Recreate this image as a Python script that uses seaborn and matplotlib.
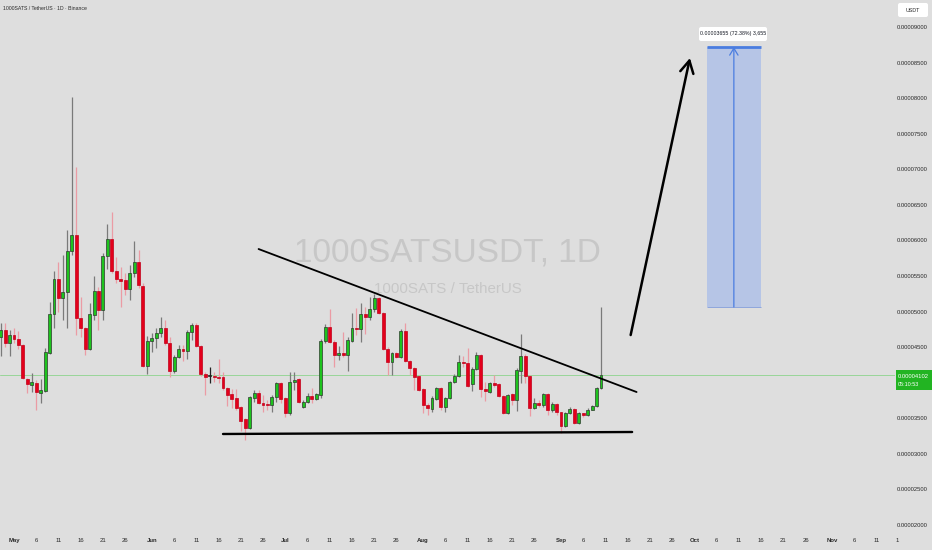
import numpy as np
import pandas as pd
import matplotlib
matplotlib.use("Agg")
import matplotlib.pyplot as plt
import matplotlib.dates as mdates
from matplotlib import font_manager as fm
from matplotlib.patches import Rectangle, FancyBboxPatch
from matplotlib.transforms import IdentityTransform
import seaborn as sns

# ---------------- data (prices in units of 1e-8 USDT) ----------------
start_date = "2024-04-28"
opens_e8 = [4642, 4741, 4558, 4671, 4614, 4530, 4052, 3967, 3996, 3855,
            3883, 4417, 4966, 5458, 5191, 5275, 5851, 6076, 4910, 4769,
            4474, 4952, 5289, 5022, 5781, 6020, 5570, 5458, 5444, 5317,
            5542, 5697, 5359, 4235, 4586, 4628, 4699, 4769, 4558, 4164,
            4361, 4474, 4446, 4713, 4811, 4516, 4122, 4090, 4094, 4080,
            4080, 3925, 3841, 3785, 3658, 3490, 3363, 3785, 3855, 3714,
            3700, 3690, 3799, 3996, 3785, 3574, 4010, 4052, 3658, 3728,
            3813, 3771, 3827, 4586, 4783, 4572, 4389, 4417, 4389, 4586,
            4769, 4755, 4966, 4924, 5036, 5191, 4980, 4474, 4291, 4417,
            4361, 4727, 4305, 4206, 4094, 3911, 3686, 3630, 3771, 3925,
            3658, 3785, 4010, 4094, 4291, 4277, 3981, 4192, 4389, 3911,
            3869, 3996, 3981, 3813, 3574, 3841, 3757, 4164, 4375, 4094,
            3644, 3714, 3686, 3841, 3616, 3700, 3588, 3391, 3574, 3630,
            3434, 3574, 3546, 3616, 3672, 3925]
highs_e8 = [4839, 4839, 4741, 4769, 4727, 4544, 4066, 4136, 4038, 4052,
            4488, 5134, 5570, 5697, 5795, 6147, 8016, 7032, 5205, 4783,
            5120, 5500, 5345, 5823, 6231, 6400, 5767, 5626, 5542, 5655,
            5992, 5865, 5402, 4656, 4699, 4769, 4924, 4881, 4642, 4389,
            4530, 4530, 4741, 4839, 4839, 4530, 4150, 4221, 4150, 4333,
            4150, 3939, 3911, 3911, 3672, 3504, 3813, 3897, 3897, 3827,
            3757, 3827, 4010, 4010, 3799, 4150, 4150, 4066, 3757, 3855,
            3925, 3855, 4614, 4825, 5036, 4600, 4516, 4713, 4642, 4980,
            5050, 5120, 5064, 5205, 5247, 5205, 4994, 4502, 4431, 4431,
            4755, 4839, 4319, 4221, 4108, 3925, 3714, 3813, 3939, 3939,
            3799, 4024, 4122, 4389, 4375, 4488, 4221, 4431, 4403, 4010,
            4010, 4108, 3996, 3827, 3841, 3855, 4206, 4685, 4403, 4108,
            3785, 3757, 3855, 3855, 3728, 3714, 3595, 3588, 3658, 3644,
            3588, 3580, 3644, 3686, 3939, 5064]
lows_e8 = [4375, 4502, 4375, 4558, 4474, 4052, 3855, 3869, 3616, 3714,
           3869, 4403, 4769, 4994, 4881, 4769, 5795, 4671, 4642, 4389,
           4460, 4881, 4741, 4881, 5598, 5542, 5402, 5064, 5233, 5163,
           5486, 5331, 4221, 4122, 4431, 4488, 4642, 4530, 4080, 4136,
           4347, 4305, 4333, 4600, 4502, 4094, 3827, 3996, 4010, 3996,
           3897, 3672, 3644, 3616, 3321, 3194, 3349, 3728, 3700, 3588,
           3616, 3588, 3728, 3714, 3518, 3546, 3897, 3714, 3644, 3714,
           3714, 3757, 3785, 4558, 4558, 4221, 4319, 4361, 4164, 4572,
           4671, 4572, 4685, 4881, 4994, 4966, 4460, 4108, 4108, 4347,
           4347, 4291, 4108, 3897, 3883, 3574, 3546, 3588, 3757, 3616,
           3588, 3771, 3996, 4080, 4221, 3939, 3883, 4178, 3799, 3742,
           3855, 3939, 3799, 3560, 3560, 3686, 3602, 3996, 3996, 3532,
           3630, 3658, 3658, 3546, 3588, 3546, 3293, 3377, 3560, 3419,
           3419, 3518, 3532, 3610, 3658, 3911]
closes_e8 = [4741, 4558, 4671, 4614, 4530, 4066, 3981, 4010, 3869, 3897,
             4431, 4966, 5458, 5191, 5275, 5851, 6076, 4910, 4769, 4474,
             4966, 5289, 5022, 5781, 6020, 5570, 5458, 5430, 5317, 5542,
             5697, 5373, 4235, 4586, 4628, 4699, 4769, 4558, 4164, 4361,
             4474, 4446, 4713, 4811, 4516, 4122, 4080, 4090, 4080, 4066,
             3925, 3827, 3771, 3644, 3462, 3363, 3799, 3855, 3714, 3686,
             3686, 3799, 3996, 3771, 3574, 4010, 4038, 3728, 3728, 3813,
             3771, 3841, 4586, 4783, 4572, 4389, 4417, 4389, 4600, 4769,
             4755, 4966, 4924, 5036, 5191, 4980, 4474, 4291, 4417, 4361,
             4727, 4305, 4206, 4080, 3897, 3686, 3644, 3785, 3925, 3658,
             3785, 4010, 4094, 4291, 4277, 3953, 4192, 4389, 3911, 3883,
             3996, 3967, 3813, 3574, 3827, 3757, 4178, 4375, 4094, 3644,
             3714, 3686, 3841, 3616, 3700, 3588, 3391, 3574, 3630, 3434,
             3574, 3546, 3616, 3672, 3925, 4102]

# drawing annotations (date, price e8)
resistance_dates = ["2024-06-25", "2024-09-18"]
resistance_e8 = [5879, 3869]
support_dates = ["2024-06-17", "2024-09-17"]
support_e8 = [3279, 3307]
arrow_dates = ["2024-09-16 16:00", "2024-09-30 00:00"]
arrow_e8 = [4670, 8564]
target_dates = ["2024-10-03 19:00", "2024-10-15 23:00"]
target_e8 = [5064, 8719]
target_text = "0.00003655 (72.38%) 3,655"
title_text = "1000SATS / TetherUS · 1D · Binance"
watermark_main = "1000SATSUSDT, 1D"
watermark_sub = "1000SATS / TetherUS"
countdown_text = "05:10:53"

# ---------------- style ----------------
sns.set_theme(style="white")
avail = {f.name for f in fm.fontManager.ttflist}
FONT = next((f for f in ["Liberation Sans Narrow", "Arial Narrow", "Liberation Sans"]
             if f in avail), "DejaVu Sans")
NARROW = FONT in ("Liberation Sans Narrow", "Arial Narrow")
plt.rcParams["font.family"] = [FONT, "DejaVu Sans"]
k = 1.2 if NARROW else 1.0   # size factor if a narrow face exists

BG = "#dedede"
GREEN = "#1ec31e"
RED = "#e3001b"
TXT = "#2a2a2a"

E8 = 1e-8
o = np.array(opens_e8) * E8
h = np.array(highs_e8) * E8
l = np.array(lows_e8) * E8
c = np.array(closes_e8) * E8
dates = pd.date_range(start_date, periods=len(o), freq="D")
x = mdates.date2num(dates)

W, H = 932, 550
fig = plt.figure(figsize=(W / 100, H / 100), dpi=100, facecolor=BG)
ax_top, ax_bot, ax_right = 0, 532, 895
ax = fig.add_axes([0, (H - ax_bot) / H, ax_right / W, (ax_bot - ax_top) / H])
ax.set_facecolor(BG)

# axis scaling (pixel layout of the reference)
px_per_day = 4.447
may1 = mdates.date2num(pd.Timestamp("2024-05-01"))
ax.set_xlim(may1 - 14 / px_per_day, may1 + (ax_right - 14) / px_per_day)
px_per_e8 = 35.57 / 500.0
ytop = (9000 + 27 / px_per_e8) * E8
ax.set_ylim(ytop - ax_bot / px_per_e8 * E8, ytop)

# watermark
ax.text(0.5, 1 - 253 / ax_bot, watermark_main, transform=ax.transAxes, ha="center",
        va="center", fontsize=24 * k, color="#c7c7c7", zorder=0)
ax.text(0.5, 1 - 289 / ax_bot, watermark_sub, transform=ax.transAxes, ha="center",
        va="center", fontsize=10.9 * k, color="#c7c7c7", zorder=0)

# current price line
ax.axhline(c[-1], color="#98d598", lw=0.7, zorder=1)

# candles
up = c > o
down = c < o
wick_col = np.where(up, "#7a7a7a", np.where(down, "#eb9ba4", "#222222"))
ax.vlines(x, l, h, colors=wick_col, lw=0.9, zorder=2)
face = np.where(up, GREEN, np.where(down, RED, "#222222"))
edge = np.where(up, "#2e3a2e", np.where(down, "#c0001a", "#222222"))
body_bottom = np.minimum(o, c)
body_h = np.maximum(np.abs(c - o), 12 * E8)
ax.bar(x, body_h, bottom=body_bottom, width=0.66, color=face, edgecolor=edge,
       linewidth=0.5, zorder=3)

# trend lines
rx = mdates.date2num(pd.to_datetime(resistance_dates))
sx = mdates.date2num(pd.to_datetime(support_dates))
sns.lineplot(x=rx, y=np.array(resistance_e8) * E8, color="black", lw=1.3, ax=ax,
             legend=False, zorder=4)
sns.lineplot(x=sx, y=np.array(support_e8) * E8, color="black", lw=1.7, ax=ax,
             legend=False, zorder=4)

# projection arrow
axx = mdates.date2num(pd.to_datetime(arrow_dates))
ax.annotate("", xy=(axx[1], arrow_e8[1] * E8), xytext=(axx[0], arrow_e8[0] * E8),
            arrowprops=dict(arrowstyle="->,head_length=0.55,head_width=0.3",
                            color="black", lw=1.8, mutation_scale=16,
                            shrinkA=0, shrinkB=0), zorder=5)

# target box
tx = mdates.date2num(pd.to_datetime(target_dates))
tb, tt = target_e8[0] * E8, target_e8[1] * E8
ax.add_patch(Rectangle((tx[0], tb), tx[1] - tx[0], tt - tb, facecolor="#b6c5e6",
                       edgecolor="none", zorder=2))
ax.hlines(tt, tx[0], tx[1], color="#4a7de0", lw=2, zorder=3)
ax.hlines(tb, tx[0], tx[1], color="#8ea6dc", lw=0.7, zorder=3)
xm = (tx[0] + tx[1]) / 2
ax.annotate("", xy=(xm, tt), xytext=(xm, tb),
            arrowprops=dict(arrowstyle="->,head_length=0.5,head_width=0.3",
                            color="#4a7de0", lw=0.9, mutation_scale=10,
                            shrinkA=0, shrinkB=0), zorder=4)

# axes ticks
yt = np.arange(2000, 9001, 500) * E8
ax.set_yticks(yt)
ax.set_yticklabels(["" if abs(v - 4000 * E8) < 1e-12 else f"{v:.8f}" for v in yt])
ax.yaxis.tick_right()
ax.tick_params(axis="y", length=0, pad=1.5, labelsize=4.2 * k, labelcolor=TXT)

tick_pos, tick_lab, tick_month = [], [], []
for m in range(5, 12):
    days = [1, 6, 11, 16, 21, 26] if m < 11 else [1, 6, 11]
    for d in days:
        ts = pd.Timestamp(2024, m, d)
        tick_pos.append(mdates.date2num(ts))
        tick_lab.append(ts.strftime("%b") if d == 1 else str(d))
        tick_month.append(d == 1)
ax.set_xticks(tick_pos)
ax.set_xticklabels(tick_lab)
ax.tick_params(axis="x", length=0, pad=4.5, labelsize=4.3 * k, labelcolor=TXT)
for lab, is_m in zip(ax.get_xticklabels(), tick_month):
    if is_m:
        lab.set_fontweight("bold")
for s in ax.spines.values():
    s.set_visible(False)
ax.grid(False)

# chrome texts
fig.text(3 / W, 1 - 8 / H, title_text, fontsize=3.7 * k, va="center", ha="left",
         color=TXT)
fig.text(897 / W, 1 - 541 / H, "1", fontsize=4.3 * k, va="center", ha="center",
         color=TXT)

idt = IdentityTransform()
fig.patches.append(FancyBboxPatch((898, H - 17), 30, 14,
                                  boxstyle="round,pad=0,rounding_size=2",
                                  fc="white", ec="none", transform=idt, figure=fig))
fig.text(913 / W, 1 - 10 / H, "USDT", fontsize=3.9 * k, ha="center", va="center",
         color=TXT)

fig.patches.append(FancyBboxPatch((896, H - 390), 36, 20,
                                  boxstyle="square,pad=0",
                                  fc="#22b422", ec="none", transform=idt, figure=fig))
fig.text(898 / W, 1 - 376 / H, f"{c[-1]:.8f}", fontsize=4.2 * k, ha="left",
         va="center", color="white")
fig.text(898 / W, 1 - 384.5 / H, countdown_text, fontsize=3.9 * k, ha="left",
         va="center", color="white")

fig.patches.append(FancyBboxPatch((699, H - 41), 68, 14,
                                  boxstyle="round,pad=0,rounding_size=2",
                                  fc="white", ec="none", transform=idt, figure=fig))
fig.text(733 / W, 1 - 34 / H, target_text, fontsize=3.75 * k, ha="center",
         va="center", color="#131722")

fig.savefig("out.png", dpi=100, facecolor=BG)
